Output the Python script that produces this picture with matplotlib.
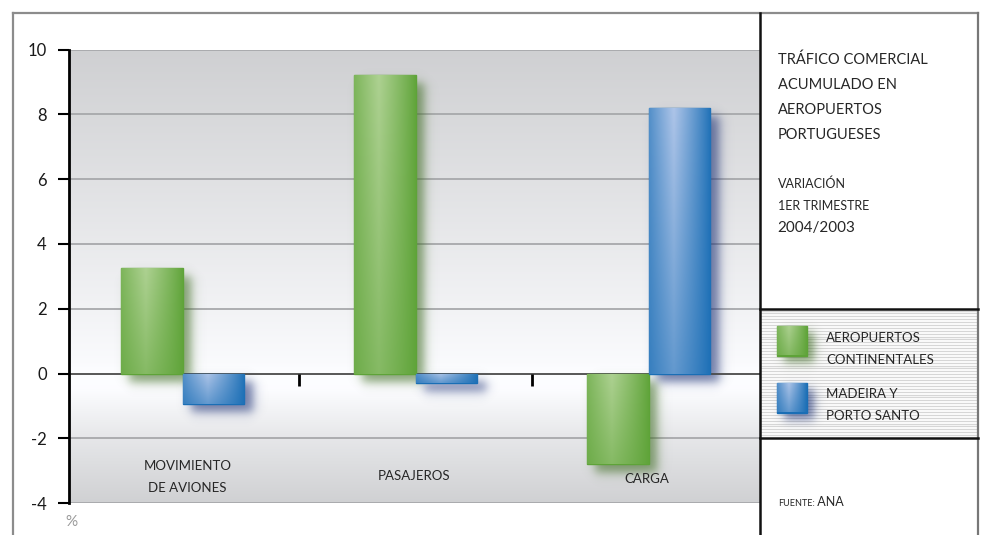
import numpy as np
import matplotlib
matplotlib.use("Agg")
import matplotlib.pyplot as plt

# ---------------- data ----------------
categories = ["MOVIMIENTO\nDE AVIONES", "PASAJEROS", "CARGA"]
continentales = [3.25, 9.2, -2.8]
madeira = [-0.93, -0.3, 8.18]
series_names = ["AEROPUERTOS\nCONTINENTALES", "MADEIRA Y\nPORTO SANTO"]
yticks = [-4, -2, 0, 2, 4, 6, 8, 10]

plt.rcParams['font.family'] = ['Lato', 'DejaVu Sans']

W, H = 990, 535
fig = plt.figure(figsize=(W / 100, H / 100), dpi=100)

# main axes geometry (pixels)
AX_L, AX_R, AX_T, AX_B = 69, 760, 49.5, 503.2
ax = fig.add_axes([AX_L / W, 1 - AX_B / H, (AX_R - AX_L) / W, (AX_B - AX_T) / H])
XL = (-0.489, 2.477)
YL = (-4, 10)
ax.set_xlim(*XL)
ax.set_ylim(*YL)
sx = (AX_R - AX_L) / (XL[1] - XL[0])   # px per x unit
sy = (AX_B - AX_T) / (YL[1] - YL[0])   # px per y unit

# background gradient
yy = np.linspace(10, -4, 400)
ky = [10, 6, 2, 0.3, 0.0, -0.5, -2, -4]
kv = [207, 224, 242, 250, 253, 252, 230, 208]
v = np.interp(-yy, [-k for k in ky], kv) / 255.0
bg = np.stack([v, v + 0.003, v + 0.012], axis=-1)[:, None, :].clip(0, 1)
ax.imshow(bg, extent=(XL[0], XL[1], YL[0], YL[1]), aspect='auto', origin='upper',
          zorder=0, interpolation='bilinear')

for t in yticks:
    if t != 0:
        ax.axhline(t, color='#a7a8ab', lw=1.3, zorder=1)
ax.axhline(0, color='#4a4a4a', lw=1.3, zorder=2.5)

# separators below zero line
for xs in [0.5, 1.5]:
    ax.plot([xs, xs], [0, -12 / sy], color='black', lw=2, zorder=2.6, solid_capstyle='butt')

bw = 0.264
green_edge = np.array([0.37, 0.64, 0.22])
green_light = np.array([0.68, 0.82, 0.57])
green_shadow = np.array([0.24, 0.42, 0.13])
blue_edge = np.array([0.10, 0.43, 0.71])
blue_light = np.array([0.68, 0.77, 0.91])
blue_shadow = np.array([0.10, 0.18, 0.45])


def bar_gradient(edge, light, nx=60, ny=120):
    u = np.linspace(0, 1, nx)[None, :]
    vv = np.linspace(0, 1, ny)[:, None]
    th = np.clip(1 - np.abs(u - 0.4) / 0.62, 0, 1) ** 0.9
    tv = 1 - 0.5 * vv
    t = th * tv
    rgb = edge[None, None, :] + (light - edge)[None, None, :] * t[..., None]
    return rgb.clip(0, 1)


def shadow_image(w_px, h_px, color, pad=22, blur=6.0, amax=0.6):
    nx = int(w_px + 2 * pad)
    ny = int(h_px + 2 * pad)
    xs = np.arange(nx)[None, :] + 0.5
    ys = np.arange(ny)[:, None] + 0.5
    ax_ = 0.5 * (np.tanh((xs - pad) / blur) - np.tanh((xs - pad - w_px) / blur))
    ay_ = 0.5 * (np.tanh((ys - pad) / blur) - np.tanh((ys - pad - h_px) / blur))
    a = amax * ax_ * ay_
    img = np.zeros((ny, nx, 4))
    img[..., :3] = color
    img[..., 3] = a
    return img


def draw_bar(x_left, val, edge, light, shcol):
    bars = ax.bar([x_left], [val], width=bw, align='edge', color=edge, edgecolor=edge,
                  lw=1.0, zorder=3)
    p = bars[0]
    x0, x1 = x_left, x_left + bw
    y0, y1 = min(0, val), max(0, val)
    wpx, hpx = (x1 - x0) * sx, (y1 - y0) * sy
    pad = 22
    img = shadow_image(wpx, hpx, shcol, pad=pad, blur=6.0, amax=0.62)
    dx, dy = 8 / sx, -8 / sy
    ax.imshow(img, extent=(x0 - pad / sx + dx, x1 + pad / sx + dx,
                           y0 - pad / sy + dy, y1 + pad / sy + dy),
              aspect='auto', origin='upper', zorder=2, interpolation='bilinear')
    im = ax.imshow(bar_gradient(edge, light), extent=(x0, x1, y0, y1), aspect='auto',
                   origin='upper', zorder=3.1, interpolation='bilinear')
    im.set_clip_path(p)


for i in range(len(categories)):
    draw_bar(i - bw, continentales[i], green_edge, green_light, green_shadow)
    draw_bar(i, madeira[i], blue_edge, blue_light, blue_shadow)

ax.set_xlim(*XL)
ax.set_ylim(*YL)

# category labels
lab_y = [-3.19, -3.16, -3.25]
lab_dx = [0.02, -0.01, -0.01]
for i, c in enumerate(categories):
    lines = c.split("\n")
    n = len(lines)
    for j, ln in enumerate(lines):
        off = (j - (n - 1) / 2) * 22.5 / sy
        ax.text(i + lab_dx[i], lab_y[i] - off, ln, ha='center', va='center',
                fontsize=9.5, color='#262626', zorder=5)

# axes style
for s in ['top', 'right', 'bottom']:
    ax.spines[s].set_visible(False)
ax.spines['left'].set_linewidth(2)
ax.spines['left'].set_color('black')
ax.spines['left'].set_zorder(6)
ax.set_yticks(yticks)
ax.set_yticklabels([str(t) for t in yticks])
ax.tick_params(axis='y', direction='out', length=8, width=1.5, pad=8,
               labelsize=12, colors='black', labelcolor='#1a1a1a')
ax.set_xticks([])

# ---------------- overlay in pixel coords ----------------
ov = fig.add_axes([0, 0, 1, 1], zorder=10)
ov.set_xlim(0, W)
ov.set_ylim(H, 0)
ov.axis('off')
ov.patch.set_visible(False)

TOP = 12.6
for yst in np.arange(310.5, 437.5, 2.9):
    ov.plot([761, 977], [yst, yst], color='#d6d6d6', lw=0.9, zorder=1)

ov.plot([13, 978], [TOP, TOP], color='#8c8c8c', lw=1.6, zorder=3)
ov.plot([13, 13], [TOP, H], color='#8c8c8c', lw=1.6, zorder=3)
ov.plot([978, 978], [TOP, H], color='#777777', lw=1.6, zorder=3)
ov.plot([760, 760], [TOP, H], color='#111111', lw=1.8, zorder=3)
ov.plot([760, 978], [308.8, 308.8], color='#111111', lw=1.8, zorder=3)
ov.plot([760, 978], [438.4, 438.4], color='#111111', lw=1.8, zorder=3)

tx = 777.7
title_lines = ["TRÁFICO COMERCIAL", "ACUMULADO EN", "AEROPUERTOS", "PORTUGUESES"]
for y, s in zip([59.7, 85.3, 110.0, 134.8], title_lines):
    ov.text(tx, y, s, fontsize=10.5, color='#262626', va='center', ha='left')
ov.text(tx, 184, "VARIACIÓN", fontsize=9, color='#262626', va='center', ha='left')
ov.text(tx, 206.4, "1ER TRIMESTRE", fontsize=9, color='#262626', va='center', ha='left')
ov.text(tx, 228, "2004/2003", fontsize=11, color='#262626', va='center', ha='left')


def legend_square(x0, y0, size, edge, light, shcol):
    pad = 16
    img = shadow_image(size, size, shcol, pad=pad, blur=5.5, amax=0.62)
    ov.imshow(img, extent=(x0 - pad + 7, x0 + size + pad + 7, y0 + size + pad + 7, y0 - pad + 7),
              aspect='auto', origin='upper', zorder=2, interpolation='bilinear')
    rect = plt.Rectangle((x0, y0), size, size, facecolor=edge, edgecolor=edge, lw=1.0, zorder=3)
    ov.add_patch(rect)
    g = bar_gradient(edge, light, 40, 40)
    im = ov.imshow(g, extent=(x0, x0 + size, y0 + size, y0), aspect='auto', origin='upper',
                   zorder=3.1, interpolation='bilinear')
    im.set_clip_path(rect)


legend_square(777, 326, 29.5, green_edge, green_light, green_shadow)
legend_square(777, 383, 29.5, blue_edge, blue_light, blue_shadow)
leg_y = [(337.8, 360.0), (394.0, 416.0)]
for (ya, yb), name in zip(leg_y, series_names):
    l1, l2 = name.split("\n")
    ov.text(826, ya, l1, fontsize=9.5, color='#262626', va='center', ha='left')
    ov.text(826, yb, l2, fontsize=9.5, color='#262626', va='center', ha='left')

t1 = ov.text(tx, 506, "FUENTE:", fontsize=6.5, color='#262626', va='baseline', ha='left')
ov.annotate(" ANA", xy=(1, 0), xycoords=t1, fontsize=9, color='#262626',
            va='bottom', ha='left')

ov.text(71, 522, "%", fontsize=11, color='#999999', va='center', ha='center')

fig.savefig("out.png", dpi=100)
